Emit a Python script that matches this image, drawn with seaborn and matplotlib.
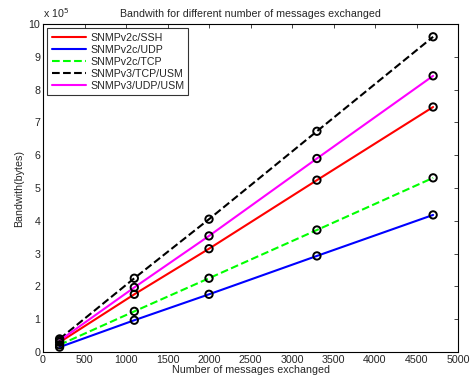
import numpy as np
import pandas as pd
import matplotlib
matplotlib.use("Agg")
import matplotlib.pyplot as plt
import seaborn as sns

# number of messages exchanged
messages = [200, 1100, 2000, 3300, 4700]

# bandwidth in units of 1e5 bytes
ssh_v2c = [0.30, 1.76, 3.15, 5.24, 7.47]
udp_v2c = [0.15, 0.97, 1.76, 2.93, 4.18]
tcp_v2c = [0.22, 1.24, 2.25, 3.72, 5.31]
tcp_usm_v3 = [0.40, 2.25, 4.05, 6.73, 9.61]
udp_usm_v3 = [0.35, 1.97, 3.54, 5.90, 8.42]

names = ["SNMPv2c/SSH", "SNMPv2c/UDP", "SNMPv2c/TCP", "SNMPv3/TCP/USM", "SNMPv3/UDP/USM"]
series = [ssh_v2c, udp_v2c, tcp_v2c, tcp_usm_v3, udp_usm_v3]
colors = ["#ff0000", "#0000ff", "#00ff00", "#000000", "#ff00ff"]
styles = ["-", "-", "--", "--", "-"]

sns.set_style("white")
plt.rcParams["font.family"] = ["Liberation Sans", "DejaVu Sans"]
plt.rcParams["xtick.direction"] = "in"
plt.rcParams["ytick.direction"] = "in"

fs = 7.7

fig = plt.figure(figsize=(4.7, 3.81), dpi=100)
ax = fig.add_axes([0.0915, 0.076, 0.883, 0.861])

for name, vals, c, ls in zip(names, series, colors, styles):
    df = pd.DataFrame({"x": messages, "y": vals})
    sns.lineplot(data=df, x="x", y="y", ax=ax, color=c, linewidth=1.5,
                 label=name, linestyle=ls,
                 dashes=(4, 2.7) if ls == "--" else True)

for vals in series:
    df = pd.DataFrame({"x": messages, "y": vals})
    sns.scatterplot(data=df, x="x", y="y", ax=ax, marker="o",
                    facecolor="none", edgecolor="black", linewidth=1.4,
                    s=28, zorder=5)

ax.set_xlim(0, 5000)
ax.set_ylim(0, 10)
ax.set_xticks(np.arange(0, 5001, 500))
ax.set_yticks(np.arange(0, 11, 1))
ax.tick_params(axis="both", labelsize=fs, length=3, width=0.6,
               top=True, right=True, pad=2)
for sp in ax.spines.values():
    sp.set_color("black")
    sp.set_linewidth(0.8)

ax.set_xlabel("Number of messages exchanged", fontsize=fs, labelpad=0)
ax.set_ylabel("Bandwith(bytes)", fontsize=fs, labelpad=3)
ax.set_title("Bandwith for different number of messages exchanged",
             fontsize=fs, pad=5)
ax.text(0.0, 1.012, r"x 10$^5$", transform=ax.transAxes, fontsize=fs,
        ha="left", va="bottom")

leg = ax.legend(loc="upper left", fontsize=fs, frameon=True, fancybox=False,
                handlelength=3.2, borderpad=0.4, labelspacing=0.2,
                handletextpad=0.4, borderaxespad=0.4)
leg.get_frame().set_edgecolor("black")
leg.get_frame().set_linewidth(0.8)

fig.savefig("out.png", dpi=100)
